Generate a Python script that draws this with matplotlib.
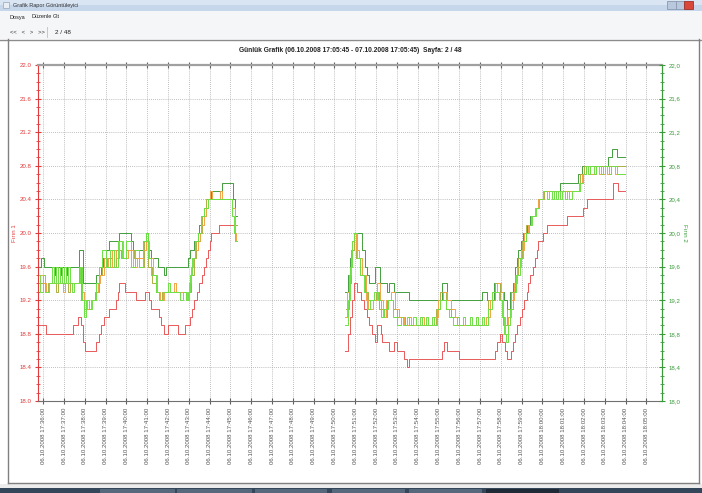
import numpy as np
import matplotlib
matplotlib.use("Agg")
import matplotlib.pyplot as plt
from matplotlib.patches import Rectangle
from matplotlib.lines import Line2D
from matplotlib.ticker import MultipleLocator, FuncFormatter

# zaman: 17:36:00'dan itibaren dakika
t_red = [-0.25, 0.14, 1.44, 1.68, 1.83, 1.92, 2.02, 2.55, 2.69, 2.79, 2.93, 3.17, 3.5, 3.6, 3.65,
         3.94, 4.47, 4.9, 5.1, 5.19, 5.58, 5.67, 5.82, 6.0, 6.5, 6.83, 7.07, 7.16, 7.26, 7.38,
         7.5, 7.62, 7.74, 7.84, 7.93, 8.0, 8.08, 8.46, 9.2, 9.3,
         14.53, 14.65, 14.75, 14.85, 14.95, 15.09, 15.3, 15.41, 15.57, 15.65, 15.81, 15.97, 16.05,
         16.24, 16.29, 16.61, 16.85, 17.01, 17.33, 17.49, 17.57, 19.17, 19.25, 19.41, 19.97, 21.73,
         21.81, 21.97, 22.05, 22.21, 22.29, 22.48, 22.58, 22.68, 22.77, 22.9, 23.01, 23.13, 23.25,
         23.33, 23.41, 23.53, 23.65, 23.73, 23.81, 24.05, 24.21, 25.17, 25.97, 26.13, 27.41, 27.65,
         27.97]
v_red = [18.9, 18.8, 18.9, 19.0, 18.9, 18.7, 18.6, 18.7, 18.8, 18.9, 19.0, 19.1, 19.2, 19.3, 19.4,
         19.3, 19.2, 19.3, 19.2, 19.1, 19.0, 18.9, 18.8, 18.9, 18.8, 18.9, 19.0, 19.1, 19.2, 19.3,
         19.4, 19.5, 19.6, 19.7, 19.8, 19.9, 20.0, 20.1, 19.9, np.nan,
         18.6, 18.8, 19.0, 19.2, 19.4, 19.3, 19.2, 19.1, 19.0, 18.9, 18.8, 18.7, 18.9,
         18.8, 18.7, 18.6, 18.7, 18.6, 18.5, 18.4, 18.5, 18.6, 18.7, 18.6, 18.5, 18.6,
         18.7, 18.8, 18.7, 18.6, 18.5, 18.6, 18.7, 18.8, 18.9, 19.0, 19.1, 19.2, 19.3,
         19.4, 19.5, 19.6, 19.7, 19.8, 19.9, 20.0, 20.1, 20.2, 20.3, 20.4, 20.6, 20.5,
         20.5]

t_dg = [-0.25, -0.1, 0.06, 0.5, 0.55, 0.8, 0.85, 1.1, 1.15, 1.74, 1.9, 2.54, 2.78, 2.86, 3.02,
        3.18, 3.66, 4.22, 4.3, 4.78, 4.94, 5.02, 5.18, 5.5, 5.82, 5.9, 6.94, 7.07, 7.26, 7.42,
        7.5, 7.58, 7.74, 7.9, 8.06, 8.62, 9.14, 9.22, 9.3,
        14.53, 14.65, 14.77, 14.85, 14.93, 15.33, 15.45, 15.57, 15.65, 15.97, 16.21, 16.53, 16.61,
        16.85, 17.57, 19.17, 19.41, 21.09, 21.33, 21.65, 21.97, 22.13, 22.29, 22.45, 22.57, 22.69,
        22.77, 22.85, 22.97, 23.09, 23.25, 23.41, 23.65, 23.81, 24.05, 24.85, 25.73, 25.89, 27.17,
        27.33, 27.57, 27.97]
v_dg = [19.6, 19.7, 19.6, 19.5, 19.6, 19.5, 19.6, 19.5, 19.6, 19.8, 19.4, 19.5, 19.6, 19.7, 19.8,
        19.9, 20.0, 19.9, 19.8, 19.9, 20.0, 19.8, 19.7, 19.6, 19.5, 19.6, 19.7, 19.8, 19.9, 20.0,
        20.1, 20.2, 20.3, 20.4, 20.5, 20.6, 20.4, 20.2, np.nan,
        19.3, 19.5, 19.7, 19.9, 20.0, 19.8, 19.6, 19.5, 19.4, 19.6, 19.4, 19.3, 19.4,
        19.3, 19.2, 19.4, 19.2, 19.3, 19.2, 19.4, 19.3, 19.2, 19.1, 19.3, 19.4, 19.6,
        19.7, 19.8, 19.9, 20.0, 20.1, 20.2, 20.3, 20.4, 20.5, 20.6, 20.7, 20.8, 20.9,
        21.0, 20.9, 20.9]

t_ol = [-0.25, 0.1, 0.25, 0.6, 0.7, 1.2, 1.3, 1.7, 1.8, 1.95, 2.3, 2.5, 2.7, 2.85, 3.05, 3.3,
        3.5, 3.75, 4.0, 4.35, 4.6, 4.85, 5.05, 5.25, 5.4, 5.55, 5.7, 6.85, 7.0, 7.1, 7.25, 7.35,
        7.55, 7.65, 7.85, 9.1, 9.2, 9.3,
        14.55, 14.7, 14.8, 14.92, 15.05, 15.25, 15.45, 15.6, 16.0, 16.15, 16.4, 16.55, 16.8, 17.0,
        17.4, 18.9, 19.1, 19.35, 19.6, 19.9, 21.4, 21.7, 21.95, 22.1, 22.3, 22.5, 22.7, 22.85,
        23.0, 23.2, 23.45, 23.65, 23.85, 24.1, 25.8, 26.0, 27.97]
v_ol = [19.4, 19.3, 19.4, 19.3, 19.4, 19.3, 19.4, 19.6, 19.2, 19.1, 19.2, 19.3, 19.5, 19.6, 19.7, 19.6,
        19.8, 19.7, 19.8, 19.7, 19.6, 19.9, 19.6, 19.4, 19.3, 19.2, 19.3, 19.2, 19.3, 19.5, 19.7, 19.9,
        20.0, 20.2, 20.4, 20.3, 20.1, np.nan,
        19.1, 19.4, 19.8, 20.0, 19.7, 19.5, 19.3, 19.2, 19.3, 19.1, 19.0, 19.2, 19.1, 19.0,
        18.9, 19.1, 19.3, 19.1, 19.0, 18.9, 19.2, 19.4, 19.2, 18.9, 19.1, 19.3, 19.5, 19.7,
        19.9, 20.1, 20.2, 20.3, 20.4, 20.5, 20.7, 20.8, 20.8]

t_or = [-0.25, 0.0, 0.15, 0.3, 0.95, 1.05, 1.75, 1.85, 1.95, 2.1, 2.3, 2.55, 2.65, 2.75, 2.9, 3.1,
        3.3, 3.5, 3.65, 3.85, 4.1, 4.3, 4.5, 4.8, 4.95, 5.1, 5.3, 5.45, 5.6, 5.8, 6.3, 6.4, 6.9,
        7.0, 7.1, 7.2, 7.3, 7.45, 7.52, 7.6, 7.75, 7.82, 7.9, 8.0, 8.1, 8.5, 8.6, 9.1, 9.2, 9.25, 9.3,
        14.53, 14.62, 14.7, 14.78, 14.85, 14.95, 15.05, 15.2, 15.35, 15.5, 15.6, 15.85, 16.05, 16.2,
        16.35, 16.5, 16.7, 16.9, 17.1, 17.35, 17.6, 17.7, 18.2, 18.3, 18.8, 19.0, 19.2, 19.4, 19.6,
        19.8, 20.0, 20.8, 20.9, 21.3, 21.5, 21.6, 21.8, 22.0, 22.1, 22.2, 22.35, 22.5, 22.65, 22.8,
        22.95, 23.1, 23.3, 23.45, 23.65, 23.8, 24.05, 25.75, 25.9, 26.1, 26.3, 26.6, 26.7, 27.0,
        27.1, 27.3, 27.5, 27.97]
v_or = [19.5, 19.4, 19.3, 19.4, 19.3, 19.4, 19.6, 19.3, 19.2, 19.1, 19.2, 19.3, 19.4, 19.5, 19.7, 19.6,
        19.8, 19.7, 19.9, 19.7, 19.8, 19.6, 19.7, 19.8, 19.9, 19.7, 19.5, 19.3, 19.2, 19.3, 19.4, 19.3, 19.2,
        19.4, 19.6, 19.7, 19.8, 19.9, 20.0, 20.1, 20.2, 20.3, 20.4, 20.5, 20.4, 20.5, 20.4, 20.3, 20.0, 19.9, np.nan,
        19.0, 19.3, 19.5, 19.7, 19.9, 20.0, 19.8, 19.7, 19.5, 19.2, 19.1, 19.2, 19.4, 19.2,
        19.0, 19.2, 19.3, 19.1, 19.0, 18.9, 19.0, 18.9, 19.0, 18.9, 19.0, 19.2, 19.3, 19.2, 19.1,
        19.0, 18.9, 19.0, 18.9, 19.0, 19.2, 19.3, 19.4, 19.3, 19.0, 18.8, 19.0, 19.2, 19.4, 19.6,
        19.8, 20.0, 20.1, 20.2, 20.3, 20.4, 20.5, 20.6, 20.7, 20.8, 20.7, 20.8, 20.7, 20.8,
        20.7, 20.8, 20.7, 20.7]

t_lg = [-0.25, -0.15, 0.0, 0.1, 0.3, 0.4, 0.5, 0.6, 0.7, 0.8, 0.9, 1.0, 1.1, 1.2, 1.3, 1.4, 1.5,
        1.75, 1.85, 1.95, 2.05, 2.2, 2.35, 2.55, 2.7, 2.85, 3.0, 3.2, 3.4, 3.6, 3.8, 4.0, 4.2, 4.4,
        4.6, 4.8, 4.95, 5.05, 5.2, 5.4, 5.55, 5.75, 6.0, 6.1, 6.6, 6.7, 6.85, 6.95, 7.05, 7.15, 7.3,
        7.45, 7.6, 7.75, 7.9, 9.1, 9.18, 9.22, 9.3,
        14.53, 14.65, 14.75, 14.85, 14.95, 15.1, 15.25, 15.4, 15.55, 15.7, 15.9, 16.1, 16.25, 16.4,
        16.6, 16.8, 17.0, 17.2, 17.3, 17.5, 17.6, 17.8, 17.9, 18.1, 18.2, 18.4, 18.5, 18.7, 18.8,
        18.95, 19.1, 19.35, 19.5, 19.7, 19.9, 20.0, 20.2, 20.3, 20.5, 20.6, 20.8, 20.9, 21.1, 21.2,
        21.4, 21.6, 21.9, 22.05, 22.15, 22.25, 22.35, 22.45, 22.6, 22.75, 22.9, 23.05, 23.2, 23.35,
        23.5, 23.7, 23.85, 24.05, 24.2, 24.3, 24.45, 24.55, 24.65, 24.75, 24.85, 24.95, 25.1, 25.2,
        25.3, 25.4, 25.8, 25.95, 26.1, 26.2, 26.3, 26.5, 26.6, 26.8, 26.9, 27.2, 27.3, 27.6, 27.97]
v_lg = [19.5, 19.3, 19.5, 19.3, 19.4, 19.6, 19.4, 19.6, 19.4, 19.6, 19.4, 19.6, 19.4, 19.6, 19.4, 19.3, 19.4,
        19.6, 19.2, 19.0, 19.2, 19.1, 19.2, 19.4, 19.6, 19.8, 19.6, 19.8, 19.6, 19.9, 19.7, 19.9, 19.6, 19.8,
        19.6, 19.9, 20.0, 19.7, 19.5, 19.3, 19.2, 19.3, 19.4, 19.3, 19.2, 19.3, 19.2, 19.3, 19.5, 19.7, 19.9,
        20.0, 20.2, 20.3, 20.4, 20.2, 20.0, 19.9, np.nan,
        18.9, 19.2, 19.6, 19.9, 20.0, 19.7, 19.5, 19.3, 19.1, 19.2, 19.3, 19.2, 19.0, 19.1,
        19.2, 19.0, 18.9, 19.0, 18.9, 19.0, 18.9, 19.0, 18.9, 19.0, 18.9, 19.0, 18.9, 19.0, 18.9,
        19.1, 19.2, 19.1, 19.0, 18.9, 19.0, 18.9, 19.0, 18.9, 19.0, 18.9, 19.0, 18.9, 19.0, 18.9,
        19.1, 19.3, 19.2, 19.0, 18.8, 18.7, 18.9, 19.1, 19.3, 19.5, 19.7, 19.9, 20.0, 20.1,
        20.2, 20.3, 20.4, 20.5, 20.4, 20.5, 20.4, 20.5, 20.4, 20.5, 20.4, 20.5, 20.4, 20.5,
        20.4, 20.5, 20.6, 20.7, 20.8, 20.7, 20.8, 20.7, 20.8, 20.7, 20.8, 20.7, 20.8, 20.7, 20.7]

tick_minutes = list(range(0, 30))
tick_labels = ["06.10.2008 %02d:%02d:00" % (17 + (36 + m) // 60, (36 + m) % 60) for m in tick_minutes]
title = "Günlük Grafik (06.10.2008 17:05:45 - 07.10.2008 17:05:45)  Sayfa: 2 / 48"

W, H = 702, 493
fig = plt.figure(figsize=(W / 100, H / 100), dpi=100)
fig.patch.set_facecolor("white")
narrow = ["Liberation Sans Narrow", "Liberation Sans", "DejaVu Sans"]


def box(x0, y0, x1, y1, color, ec="none"):
    fig.patches.append(Rectangle((x0 / W, 1 - y1 / H), (x1 - x0) / W, (y1 - y0) / H,
                                 transform=fig.transFigure, facecolor=color, edgecolor=ec, lw=0.6))


def hline(x0, x1, y, color, lw=1.0):
    fig.add_artist(Line2D([x0 / W, x1 / W], [1 - y / H, 1 - y / H], transform=fig.transFigure, color=color, lw=lw))


def vline(x, y0, y1, color, lw=1.0):
    fig.add_artist(Line2D([x / W, x / W], [1 - y0 / H, 1 - y1 / H], transform=fig.transFigure, color=color, lw=lw))


# pencere çerçevesi
box(0, 0, W, 5, "#d9e5f3")
box(0, 5, W, 11, "#c6d6eb")
box(0, 11, W, 39, "#f5f6f8")
box(3, 2, 9, 8, "#e9eef5", ec="#a0b0c4")
fig.text(13 / W, 1 - 5.5 / H, "Grafik Rapor Görüntüleyici", fontsize=4.0, family=narrow, color="#333", va="center")
box(667, 1, 676, 9, "#b9c8dc", ec="#8a9ab0")
box(676, 1, 684, 9, "#b9c8dc", ec="#8a9ab0")
box(684, 1, 693, 9, "#d9463a", ec="#a03028")
fig.text(10 / W, 1 - 17 / H, "Dosya", fontsize=4.0, family=narrow, color="#222", va="center")
fig.text(31 / W, 1 - 17 / H, "Düzenle", fontsize=4.0, family=narrow, color="#222", va="center")
fig.text(53 / W, 1 - 17 / H, "Git", fontsize=4.0, family=narrow, color="#222", va="center")
fig.text(10 / W, 1 - 32 / H, "<<   <   >   >>", fontsize=4.2, family=narrow, color="#333", va="center")
vline(47, 27, 37, "#c0c0c0", 0.6)
fig.text(55 / W, 1 - 32 / H, "2 / 48", fontsize=4.6, family=narrow, color="#222", va="center")
hline(0, W, 39.5, "#8c8c8c", 1.0)
vline(8, 39, 483, "#808080", 1.0)
vline(698.5, 39, 483, "#808080", 1.0)
hline(8, 699, 483, "#808080", 1.0)
box(0, 483.5, W, 488, "#ececec")
box(0, 488, W, H, "#34475a")
for x0, x1 in [(100, 175), (177, 252), (255, 327), (332, 405), (409, 482)]:
    box(x0, 488.5, x1, H, "#56687c")
box(486, 488.5, 559, H, "#1f2a36")

fig.text(350 / W, 1 - 50 / H, title, fontsize=4.8, family=narrow, fontweight="bold",
         color="#222", ha="center", va="center")

# grafik
ax = fig.add_axes([38 / W, 1 - 401 / H, 624 / W, 336 / H])
ax.set_xlim(-0.25, 29.75)
ax.set_ylim(18.0, 22.0)

ax.plot(t_red, v_red, drawstyle="steps-post", color="#e85a5a", lw=0.7)
ax.plot(t_dg, v_dg, drawstyle="steps-post", color="#43a03e", lw=0.7)
ax.plot(t_ol, v_ol, drawstyle="steps-post", color="#aab040", lw=0.7)
ax.plot(t_or, v_or, drawstyle="steps-post", color="#f2a445", lw=0.7)
ax.plot(t_lg, v_lg, drawstyle="steps-post", color="#6ee046", lw=0.7)

ax.set_xticks(tick_minutes)
ax.set_xticklabels(tick_labels, rotation=90, fontsize=4.4, family=narrow, color="#555")
ax.tick_params(axis="x", direction="inout", length=4, color="#606060", top=True, pad=3)
ax.yaxis.set_major_locator(MultipleLocator(0.4))
ax.yaxis.set_minor_locator(MultipleLocator(0.1))
ax.yaxis.set_major_formatter(FuncFormatter(lambda v, p: "%.1f" % v))
ax.tick_params(axis="y", which="major", direction="inout", length=5, color="#e03a3a",
               labelcolor="#e03a3a", labelsize=4.4, pad=2)
ax.tick_params(axis="y", which="minor", direction="inout", length=3, color="#e03a3a")
for lbl in ax.get_yticklabels():
    lbl.set_family(narrow)
ax.grid(True, which="major", color="#a8a8a8", lw=0.6, linestyle=(0, (1, 1.5)))

ax.spines["left"].set_color("#e03a3a")
ax.spines["bottom"].set_color("#707070")
ax.spines["top"].set_color("#a0a0a0")
ax.spines["top"].set_linewidth(1.6)
ax.spines["right"].set_color("#3a9a3a")
ax.set_ylabel("Fırın 1", color="#e03a3a", fontsize=4.4, family=narrow, labelpad=2)

ax2 = ax.twinx()
ax2.set_ylim(18.0, 22.0)
ax2.yaxis.set_major_locator(MultipleLocator(0.4))
ax2.yaxis.set_minor_locator(MultipleLocator(0.1))
ax2.yaxis.set_major_formatter(FuncFormatter(lambda v, p: ("%.1f" % v).replace(".", ",")))
ax2.tick_params(axis="y", which="major", direction="inout", length=5, color="#3a9a3a",
                labelcolor="#3a9a3a", labelsize=4.4, pad=2)
ax2.tick_params(axis="y", which="minor", direction="inout", length=3, color="#3a9a3a")
for lbl in ax2.get_yticklabels():
    lbl.set_family(narrow)
for s in ["left", "top", "bottom"]:
    ax2.spines[s].set_visible(False)
ax2.spines["right"].set_color("#3a9a3a")
ax2.set_ylabel("Fırın 2", color="#3a9a3a", fontsize=4.4, family=narrow, rotation=270, labelpad=5)

fig.savefig("out.png", dpi=100)
